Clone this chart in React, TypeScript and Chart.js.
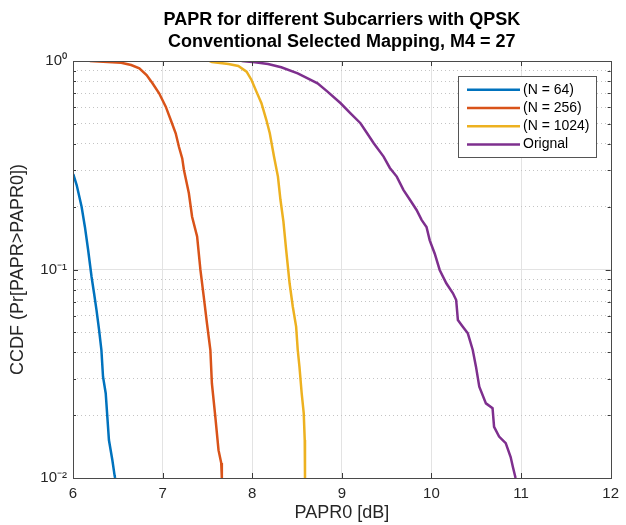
import React, { useEffect, useRef } from 'react';
import { Chart, registerables } from 'chart.js';

Chart.register(...registerables);

const FONT = "'Liberation Sans', Arial, Helvetica, sans-serif";

const TITLE_LINES = ['PAPR for different Subcarriers with QPSK', 'Conventional Selected Mapping, M4 = 27'];
const X_LABEL = 'PAPR0 [dB]';
const Y_LABEL = 'CCDF (Pr[PAPR>PAPR0])';

const X_TICKS = [6, 7, 8, 9, 10, 11, 12];
const Y_TICKS = [
  0.01, 0.02, 0.03, 0.04, 0.05, 0.06, 0.07, 0.08, 0.09,
  0.1, 0.2, 0.3, 0.4, 0.5, 0.6, 0.7, 0.8, 0.9, 1,
];
const Y_MAJOR = [0.01, 0.1, 1];
const Y_MAJOR_LABELS = ['10⁻²', '10⁻¹', '10⁰'];

const SERIES_LABELS = ['(N = 64)', '(N = 256)', '(N = 1024)', 'Orignal'];
const SERIES_COLORS = ['#0072BD', '#D95319', '#EDB120', '#7E2F8E'];

const N64_X = [6.003, 6.041, 6.096, 6.133, 6.169, 6.207, 6.235, 6.262, 6.291, 6.317, 6.335, 6.365, 6.383, 6.401, 6.439, 6.464, 6.47];
const N64_Y = [0.287, 0.254, 0.2, 0.16, 0.124, 0.0923, 0.0769, 0.064, 0.0513, 0.0411, 0.0306, 0.0255, 0.0197, 0.0152, 0.0122, 0.0103, 0.01];

const N256_X = [6.188, 6.538, 6.649, 6.74, 6.821, 6.887, 6.961, 7.035, 7.091, 7.146, 7.182, 7.219, 7.238, 7.293, 7.329, 7.385, 7.422, 7.459, 7.495, 7.533, 7.55, 7.588, 7.624, 7.654, 7.661];
const N256_Y = [1.0, 0.981, 0.957, 0.923, 0.857, 0.782, 0.7, 0.604, 0.521, 0.45, 0.388, 0.341, 0.3, 0.232, 0.179, 0.144, 0.0995, 0.0741, 0.0552, 0.0411, 0.0284, 0.0197, 0.0136, 0.0118, 0.01];

const N1024_X = [7.525, 7.55, 7.735, 7.845, 7.937, 7.992, 8.047, 8.103, 8.158, 8.196, 8.243, 8.287, 8.315, 8.348, 8.379, 8.417, 8.453, 8.49, 8.508, 8.527, 8.552, 8.575, 8.586, 8.589];
const N1024_Y = [1.0, 0.99, 0.967, 0.946, 0.889, 0.811, 0.713, 0.627, 0.521, 0.45, 0.348, 0.279, 0.216, 0.17, 0.124, 0.0859, 0.0663, 0.0532, 0.0411, 0.0342, 0.0255, 0.0204, 0.0152, 0.01];

const ORIG_X = [7.882, 8.03, 8.177, 8.324, 8.508, 8.619, 8.729, 8.84, 8.987, 9.097, 9.208, 9.282, 9.356, 9.466, 9.536, 9.613, 9.687, 9.76, 9.834, 9.89, 9.945, 9.981, 10.037, 10.092, 10.166, 10.24, 10.276, 10.295, 10.35, 10.406, 10.461, 10.497, 10.534, 10.608, 10.682, 10.699, 10.755, 10.829, 10.884, 10.909, 10.939];
const ORIG_Y = [1.0, 0.986, 0.967, 0.933, 0.873, 0.826, 0.782, 0.713, 0.627, 0.561, 0.503, 0.45, 0.403, 0.348, 0.307, 0.279, 0.241, 0.216, 0.193, 0.173, 0.16, 0.138, 0.119, 0.0995, 0.0859, 0.0769, 0.0714, 0.0573, 0.0532, 0.0494, 0.0411, 0.0342, 0.0274, 0.0228, 0.0216, 0.0176, 0.0158, 0.0147, 0.0126, 0.0113, 0.01];

const SERIES_X = [N64_X, N256_X, N1024_X, ORIG_X];
const SERIES_Y = [N64_Y, N256_Y, N1024_Y, ORIG_Y];

const isMajorY = (v: number) => Y_MAJOR.some((m) => Math.abs(m - v) < 1e-9);

const boxPlugin = {
  id: 'matlabBox',
  afterDraw(chart: any) {
    const { ctx, chartArea } = chart;
    const xs = chart.scales.x;
    const ys = chart.scales.y;
    const { left, right, top, bottom } = chartArea;
    ctx.save();
    ctx.strokeStyle = '#3a3a3a';
    ctx.lineWidth = 1;
    ctx.beginPath();
    X_TICKS.forEach((v) => {
      const px = Math.round(xs.getPixelForValue(v)) + 0.5;
      ctx.moveTo(px, bottom);
      ctx.lineTo(px, bottom - 5);
      ctx.moveTo(px, top);
      ctx.lineTo(px, top + 5);
    });
    Y_TICKS.forEach((v) => {
      const py = Math.round(ys.getPixelForValue(v)) + 0.5;
      const len = isMajorY(v) ? 5 : 3;
      ctx.moveTo(left, py);
      ctx.lineTo(left + len, py);
      ctx.moveTo(right, py);
      ctx.lineTo(right - len, py);
    });
    ctx.stroke();
    ctx.strokeStyle = '#4a4a4a';
    ctx.strokeRect(Math.round(left) + 0.5, Math.round(top) + 0.5, Math.round(right - left), Math.round(bottom - top));
    ctx.restore();
  },
};

const legendPlugin = {
  id: 'matlabLegend',
  afterDraw(chart: any) {
    const { ctx, chartArea } = chart;
    const ds = chart.data.datasets;
    ctx.save();
    ctx.font = `14px ${FONT}`;
    let maxW = 0;
    ds.forEach((d: any) => {
      maxW = Math.max(maxW, ctx.measureText(d.label).width);
    });
    const padL = 9;
    const lineLen = 53;
    const gap = 3;
    const padR = 6;
    const rowH = 18.3;
    const w = padL + lineLen + gap + maxW + padR;
    const h = ds.length * rowH + 8;
    const x0 = Math.round(chartArea.right - 15 - w);
    const y0 = Math.round(chartArea.top + 15);
    ctx.fillStyle = '#ffffff';
    ctx.fillRect(x0, y0, w, h);
    ctx.strokeStyle = '#555555';
    ctx.lineWidth = 1;
    ctx.strokeRect(x0 + 0.5, y0 + 0.5, Math.round(w), Math.round(h));
    ds.forEach((d: any, i: number) => {
      const cy = y0 + 4 + rowH * (i + 0.5) + 0.5;
      ctx.strokeStyle = d.borderColor;
      ctx.lineWidth = 2.5;
      ctx.beginPath();
      ctx.moveTo(x0 + padL, cy);
      ctx.lineTo(x0 + padL + lineLen, cy);
      ctx.stroke();
      ctx.fillStyle = '#000000';
      ctx.textBaseline = 'middle';
      ctx.textAlign = 'left';
      ctx.fillText(d.label, x0 + padL + lineLen + gap, cy);
    });
    ctx.restore();
  },
};

export default function App() {
  const canvasRef = useRef<HTMLCanvasElement | null>(null);

  useEffect(() => {
    if (!canvasRef.current) return;
    Chart.defaults.font.family = FONT;
    const datasets = SERIES_LABELS.map((label, i) => ({
      label,
      data: SERIES_X[i].map((x, j) => ({ x, y: SERIES_Y[i][j] })),
      borderColor: SERIES_COLORS[i],
      backgroundColor: SERIES_COLORS[i],
      borderWidth: 2.5,
      pointRadius: 0,
      fill: false,
      tension: 0,
    }));

    const chart = new Chart(canvasRef.current, {
      type: 'line',
      data: { datasets },
      options: {
        responsive: false,
        animation: false,
        layout: { padding: { left: 0, right: 10, top: 0, bottom: 0 } },
        plugins: {
          legend: { display: false },
          tooltip: { enabled: false },
          title: {
            display: true,
            text: TITLE_LINES,
            fullSize: false,
            color: '#000000',
            font: { size: 18, weight: 'bold', family: FONT, lineHeight: 1.2 },
            padding: { top: 9.5, bottom: 8.3 },
          },
        },
        scales: {
          x: {
            type: 'linear',
            min: 6,
            max: 12,
            afterBuildTicks: (scale: any) => {
              scale.ticks = X_TICKS.map((v) => ({ value: v }));
            },
            afterFit: (scale: any) => {
              scale.height = 47;
            },
            ticks: {
              autoSkip: false,
              maxRotation: 0,
              padding: 7,
              color: '#262626',
              font: { size: 15, family: FONT },
              callback: (v: any) => String(v),
            },
            grid: {
              drawTicks: false,
              color: (c: any) => (c.tick && (c.tick.value === 6 || c.tick.value === 12) ? 'rgba(0,0,0,0)' : '#e3e3e3'),
              lineWidth: 1,
            },
            border: { display: false },
            title: {
              display: true,
              text: X_LABEL,
              color: '#262626',
              font: { size: 18, family: FONT },
              padding: { top: 0, bottom: 1 },
            },
          },
          y: {
            type: 'logarithmic',
            min: 0.01,
            max: 1,
            afterBuildTicks: (scale: any) => {
              scale.ticks = Y_TICKS.map((v) => ({ value: v, major: isMajorY(v) }));
            },
            afterFit: (scale: any) => {
              scale.width = 73;
            },
            ticks: {
              autoSkip: false,
              padding: 6,
              color: '#262626',
              font: { size: 15, family: FONT },
              callback: (v: any) => {
                const idx = Y_MAJOR.findIndex((m) => Math.abs(m - Number(v)) < 1e-9);
                return idx >= 0 ? Y_MAJOR_LABELS[idx] : '';
              },
            },
            grid: {
              drawTicks: false,
              color: (c: any) => {
                if (!c.tick) return '#e3e3e3';
                const v = c.tick.value;
                if (Math.abs(v - 1) < 1e-9 || Math.abs(v - 0.01) < 1e-9) return 'rgba(0,0,0,0)';
                return isMajorY(v) ? '#e3e3e3' : '#c4c4c4';
              },
              lineWidth: 1,
            },
            border: {
              display: false,
              dash: (c: any) => (c.tick && !isMajorY(c.tick.value) ? [1, 3] : []),
            },
            title: {
              display: true,
              text: Y_LABEL,
              color: '#262626',
              font: { size: 18, family: FONT },
              padding: { top: 7, bottom: 0 },
            },
          },
        },
      } as any,
      plugins: [boxPlugin, legendPlugin],
    });
    return () => chart.destroy();
  }, []);

  return (
    <div style={{ position: 'fixed', left: 0, top: 0, width: 626, height: 525, background: '#ffffff' }}>
      <canvas ref={canvasRef} width={626} height={525} style={{ display: 'block' }} />
    </div>
  );
}
